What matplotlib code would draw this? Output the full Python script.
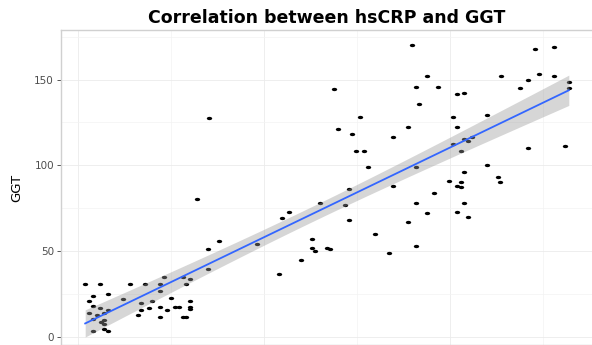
import numpy as np
import matplotlib
matplotlib.use('Agg')
import matplotlib.pyplot as plt
from matplotlib.ticker import MultipleLocator

# hsCRP (x) and GGT (y)
hscrp = [0.19, 0.59, 0.40, 0.80, 0.29, 0.40, 0.59, 0.80, 0.29, 0.51,
         0.70, 0.40, 0.62, 0.70, 0.70, 0.40, 0.70, 0.80, 1.39, 1.80,
         2.20, 2.89, 2.30, 2.81, 3.00, 2.20, 1.21, 1.69, 1.98, 2.49,
         3.00, 1.61, 1.69, 1.90, 2.20, 2.38, 2.60, 2.71, 3.00, 3.00,
         2.20, 2.81, 2.89, 3.19, 3.51, 3.78, 3.48, 3.48, 4.80, 5.39,
         5.49, 5.68, 5.98, 6.30, 6.30, 6.38, 6.70, 6.78, 6.49, 6.99,
         7.18, 7.29, 7.29, 6.89, 7.58, 7.37, 7.48, 7.69, 7.80, 7.99,
         8.36, 8.47, 8.47, 8.87, 8.87, 8.98, 9.09, 9.17, 9.38, 9.67,
         9.09, 9.09, 9.09, 9.38, 9.57, 9.97, 10.08, 10.18, 10.18, 10.37,
         10.08, 10.29, 10.37, 10.48, 10.59, 10.37, 10.29, 10.18, 10.29, 10.37,
         10.18, 10.48, 10.99, 10.99, 11.28, 11.34, 11.36, 11.87, 12.09, 12.27,
         12.38, 12.78, 12.78, 13.19, 13.19, 12.09, 13.08]
ggt = [31, 31, 24, 25, 21, 18, 17, 16, 14, 13,
       14, 10.5, 8.7, 10, 7.6, 3.5, 4.7, 3.5, 31, 31,
       31, 31, 35, 35, 33.7, 26.7, 22.1, 19.8, 21, 22.7,
       21, 12.8, 15.7, 16.9, 17.4, 15.7, 17.4, 17.4, 17.4, 16.3,
       11.6, 11.6, 11.6, 80.2, 127.3, 55.8, 51.2, 39.5, 54.1, 36.6,
       69.2, 72.7, 44.8, 57, 51.7, 50, 51.7, 51.2, 77.9, 120.9,
       76.7, 86, 68, 144.2, 127.9, 118, 108.1, 108.1, 98.8, 59.9,
       48.8, 87.8, 116.3, 122.1, 66.9, 170.3, 145.9, 136, 152.3, 145.9,
       98.8, 77.9, 52.9, 72.1, 83.7, 90.7, 127.9, 122.1, 141.3, 142.4,
       112.2, 108.1, 115.1, 114, 116.3, 95.9, 90.1, 87.8, 87.2, 77.9,
       72.7, 69.8, 129.1, 100, 93, 90.1, 152.3, 145.3, 150, 168,
       153.5, 169.2, 152.3, 148.3, 145.3, 109.9, 111]
y_ticks = [0, 50, 100, 150]

x = np.array(hscrp)
y = np.array(ggt)

# linear fit with 95% confidence band (like geom_smooth(method='lm'))
n = len(x)
slope, intercept = np.polyfit(x, y, 1)
resid = y - (slope * x + intercept)
s = np.sqrt(np.sum(resid ** 2) / (n - 2))
sxx = np.sum((x - x.mean()) ** 2)
xs = np.linspace(x.min(), x.max(), 80)
fit = slope * xs + intercept
se = s * np.sqrt(1.0 / n + (xs - x.mean()) ** 2 / sxx)
t = 1.981

# the points in the picture are squashed, so use a flat ellipse marker
th = np.linspace(0, 2 * np.pi, 25)
dot = np.column_stack([np.cos(th), 0.62 * np.sin(th)])

fig = plt.figure(figsize=(5.92, 3.45), dpi=100)
ax = fig.add_axes([61 / 592, -0.001, 532 / 592, 315 / 345])

ax.scatter(x, y, s=15, marker=dot, color='black', linewidths=0, zorder=2)
ax.fill_between(xs, fit - t * se, fit + t * se, color='#999999', alpha=0.4,
                linewidth=0, zorder=3)
ax.plot(xs, fit, color='#3366FF', linewidth=1.3, zorder=4)

xr = x.max() - x.min()
yr = y.max() - y.min()
ax.set_xlim(x.min() - 0.05 * xr, x.max() + 0.05 * xr)
ax.set_ylim(y.min() - 0.05 * yr, y.max() + 0.05 * yr)

ax.xaxis.set_major_locator(MultipleLocator(5))
ax.xaxis.set_minor_locator(MultipleLocator(2.5))
ax.set_yticks(y_ticks)
ax.yaxis.set_minor_locator(MultipleLocator(25))
ax.grid(which='major', color='#ebebeb', linewidth=0.6)
ax.grid(which='minor', color='#f3f3f3', linewidth=0.5)
ax.set_axisbelow(True)

ax.tick_params(axis='x', which='both', bottom=False, labelbottom=False)
ax.tick_params(axis='y', which='major', length=3, width=0.7, color='#555555',
               labelsize=7.5, labelcolor='#4d4d4d', pad=2)
ax.tick_params(axis='y', which='minor', left=False)

for sp in ax.spines.values():
    sp.set_color('#d0d0d0')
    sp.set_linewidth(1.0)

ax.set_ylabel('GGT', fontsize=9.5, color='black', labelpad=8)
ax.set_title('Correlation between hsCRP and GGT', fontsize=12.5,
             fontweight='bold', pad=5)

fig.savefig('out.png', dpi=100)
